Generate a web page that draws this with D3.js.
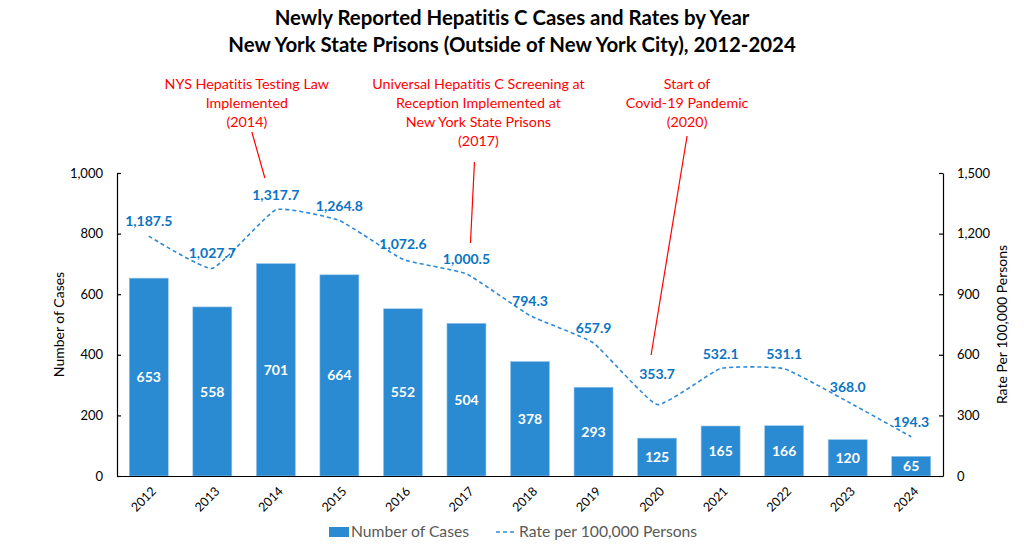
<!DOCTYPE html>
<html>
<head>
<meta charset="utf-8">
<script src="https://cdn.jsdelivr.net/npm/d3@7"></script>
<style>
  html, body { margin: 0; padding: 0; background: #fff; }
  svg { display: block; font-variant-ligatures: none; }
  svg text { font-variant-ligatures: none; font-feature-settings: "liga" 0, "clig" 0; }
</style>
</head>
<body>
<svg id="chart" width="1024" height="550"></svg>
<script>
// ---- data -------------------------------------------------------
const years = ["2012","2013","2014","2015","2016","2017","2018","2019","2020","2021","2022","2023","2024"];
const cases = [653, 558, 701, 664, 552, 504, 378, 293, 125, 165, 166, 120, 65];
const rates = [1187.5, 1027.7, 1317.7, 1264.8, 1072.6, 1000.5, 794.3, 657.9, 353.7, 532.1, 531.1, 368.0, 194.3];
const casesTicks = [0, 200, 400, 600, 800, 1000];
const rateTicks  = [0, 300, 600, 900, 1200, 1500];
const titleLines = [
  "Newly Reported Hepatitis C Cases and Rates by Year",
  "New York State Prisons (Outside of New York City), 2012-2024"
];
const notes = [
  { year: "2014", lines: ["NYS Hepatitis Testing Law", "Implemented", "(2014)"] },
  { year: "2017", lines: ["Universal Hepatitis C Screening at", "Reception Implemented at", "New York State Prisons", "(2017)"] },
  { year: "2020", lines: ["Start of", "Covid-19 Pandemic", "(2020)"] }
];

// ---- layout / style ---------------------------------------------
const FONT = "Lato, 'Open Sans', sans-serif";
const margin = { top: 173, right: 81, bottom: 74, left: 117 };
const W = 1024, H = 550;
const barFill = "#2A8AD2", lineCol = "#2E8AD6", rateLabelCol = "#0A74C4", noteCol = "#FF0000";

// annotation geometry relative to each year's band centre
const noteGeom = {
  "2014": { dx: -29, lineTop: [-24, 132], lineBot: [-11, 178] },
  "2017": { dx: 12,  lineTop: [8, 162],   lineBot: [4, 243] },
  "2020": { dx: 30,  lineTop: [30, 136],  lineBot: [-6, 355] }
};
// extra lift for rate labels that sit higher in the reference
const labelLift = { "2020": 16 };

const svg = d3.select("#chart");

const x = d3.scaleBand()
  .domain(years)
  .range([margin.left, W - margin.right])
  .paddingInner(0.386)
  .paddingOuter(0.193);

const yCases = d3.scaleLinear().domain([0, 1000]).range([H - margin.bottom, margin.top]);
const yRate  = d3.scaleLinear().domain([0, 1500]).range([H - margin.bottom, margin.top]);

const cx = y => x(y) + x.bandwidth() / 2;

// title
svg.append("g").selectAll("text")
  .data(titleLines)
  .join("text")
    .attr("x", W / 2)
    .attr("y", (d, i) => 25 + i * 27)
    .attr("text-anchor", "middle")
    .attr("font-family", FONT)
    .attr("font-weight", "bold")
    .attr("font-size", 20.4)
    .attr("fill", "#000")
    .text(d => d);

// bars
svg.append("g").selectAll("rect")
  .data(years)
  .join("rect")
    .attr("x", d => x(d))
    .attr("width", x.bandwidth())
    .attr("y", (d, i) => yCases(cases[i]))
    .attr("height", (d, i) => yCases(0) - yCases(cases[i]))
    .attr("fill", barFill)
    .attr("stroke", "#9DC8EC")
    .attr("stroke-width", 0.6);

// bar values
svg.append("g").selectAll("text")
  .data(years)
  .join("text")
    .attr("x", d => cx(d))
    .attr("y", (d, i) => (yCases(cases[i]) + yCases(0)) / 2)
    .attr("dy", "0.36em")
    .attr("text-anchor", "middle")
    .attr("font-family", FONT)
    .attr("font-weight", "bold")
    .attr("font-size", 14)
    .attr("fill", "#fff")
    .text((d, i) => cases[i]);

// rate line (lightly smoothed, dashed)
const line = d3.line()
  .x((d, i) => cx(years[i]))
  .y(d => yRate(d))
  .curve(d3.curveCardinal.tension(0.6));

svg.append("path")
  .datum(rates)
  .attr("d", line)
  .attr("fill", "none")
  .attr("stroke", lineCol)
  .attr("stroke-width", 1.6)
  .attr("stroke-dasharray", "4,3");

// rate labels
svg.append("g").selectAll("text")
  .data(years)
  .join("text")
    .attr("x", d => cx(d))
    .attr("y", (d, i) => yRate(rates[i]) - 15 - (labelLift[d] || 0))
    .attr("dy", "0.36em")
    .attr("text-anchor", "middle")
    .attr("font-family", FONT)
    .attr("font-weight", "bold")
    .attr("font-size", 14)
    .attr("fill", rateLabelCol)
    .text((d, i) => d3.format(",.1f")(rates[i]));

// axes
function axisStyle(g) {
  g.selectAll("path, line").attr("stroke", "#000").attr("stroke-width", 1.2);
  g.selectAll("text").attr("fill", "#000").attr("font-family", FONT).attr("font-size", 13);
}

svg.append("g")
  .attr("transform", `translate(${margin.left},0)`)
  .call(d3.axisLeft(yCases).tickValues(casesTicks).tickFormat(d3.format(",")).tickSizeInner(-4).tickSizeOuter(0).tickPadding(14))
  .call(axisStyle);

svg.append("g")
  .attr("transform", `translate(${W - margin.right},0)`)
  .call(d3.axisRight(yRate).tickValues(rateTicks).tickFormat(d3.format(",")).tickSizeInner(-4).tickSizeOuter(0).tickPadding(14))
  .call(axisStyle);

const xAxis = svg.append("g")
  .attr("transform", `translate(0,${H - margin.bottom})`)
  .call(d3.axisBottom(x).tickSize(0).tickSizeOuter(0).tickPadding(0))
  .call(axisStyle);
xAxis.selectAll("text")
  .attr("font-size", 12.5)
  .attr("text-anchor", "end")
  .attr("transform", "translate(5,13) rotate(-45)")
  .attr("dy", "0.35em");

// axis titles
svg.append("text")
  .attr("transform", `translate(64,${(margin.top + H - margin.bottom) / 2}) rotate(-90)`)
  .attr("text-anchor", "middle")
  .attr("font-family", FONT)
  .attr("font-size", 14)
  .attr("fill", "#000")
  .text("Number of Cases");

svg.append("text")
  .attr("transform", `translate(1007,${(margin.top + H - margin.bottom) / 2}) rotate(-90)`)
  .attr("text-anchor", "middle")
  .attr("font-family", FONT)
  .attr("font-size", 14)
  .attr("fill", "#000")
  .text("Rate Per 100,000 Persons");

// annotations
const gNotes = svg.append("g");
notes.forEach(n => {
  const g = noteGeom[n.year], c = cx(n.year);
  gNotes.append("g").selectAll("text")
    .data(n.lines)
    .join("text")
      .attr("x", c + g.dx)
      .attr("y", (d, i) => 89 + i * 19)
      .attr("text-anchor", "middle")
      .attr("font-family", FONT)
      .attr("font-size", 14.3)
      .attr("fill", noteCol)
      .text(d => d);
  gNotes.append("line")
    .attr("x1", c + g.lineTop[0]).attr("y1", g.lineTop[1])
    .attr("x2", c + g.lineBot[0]).attr("y2", g.lineBot[1])
    .attr("stroke", noteCol)
    .attr("stroke-width", 1.2);
});

// legend
const lg = svg.append("g").attr("font-family", FONT).attr("font-size", 15.7).attr("fill", "#595959");
lg.append("rect").attr("x", 329).attr("y", 527).attr("width", 20).attr("height", 10).attr("fill", barFill);
lg.append("text").attr("x", 351).attr("y", 532).attr("dy", "0.35em").text("Number of Cases");
lg.append("line").attr("x1", 496).attr("x2", 515).attr("y1", 532).attr("y2", 532)
  .attr("stroke", lineCol).attr("stroke-width", 1.6).attr("stroke-dasharray", "4,3");
lg.append("text").attr("x", 519).attr("y", 532).attr("dy", "0.35em").text("Rate per 100,000 Persons");
</script>
</body>
</html>
